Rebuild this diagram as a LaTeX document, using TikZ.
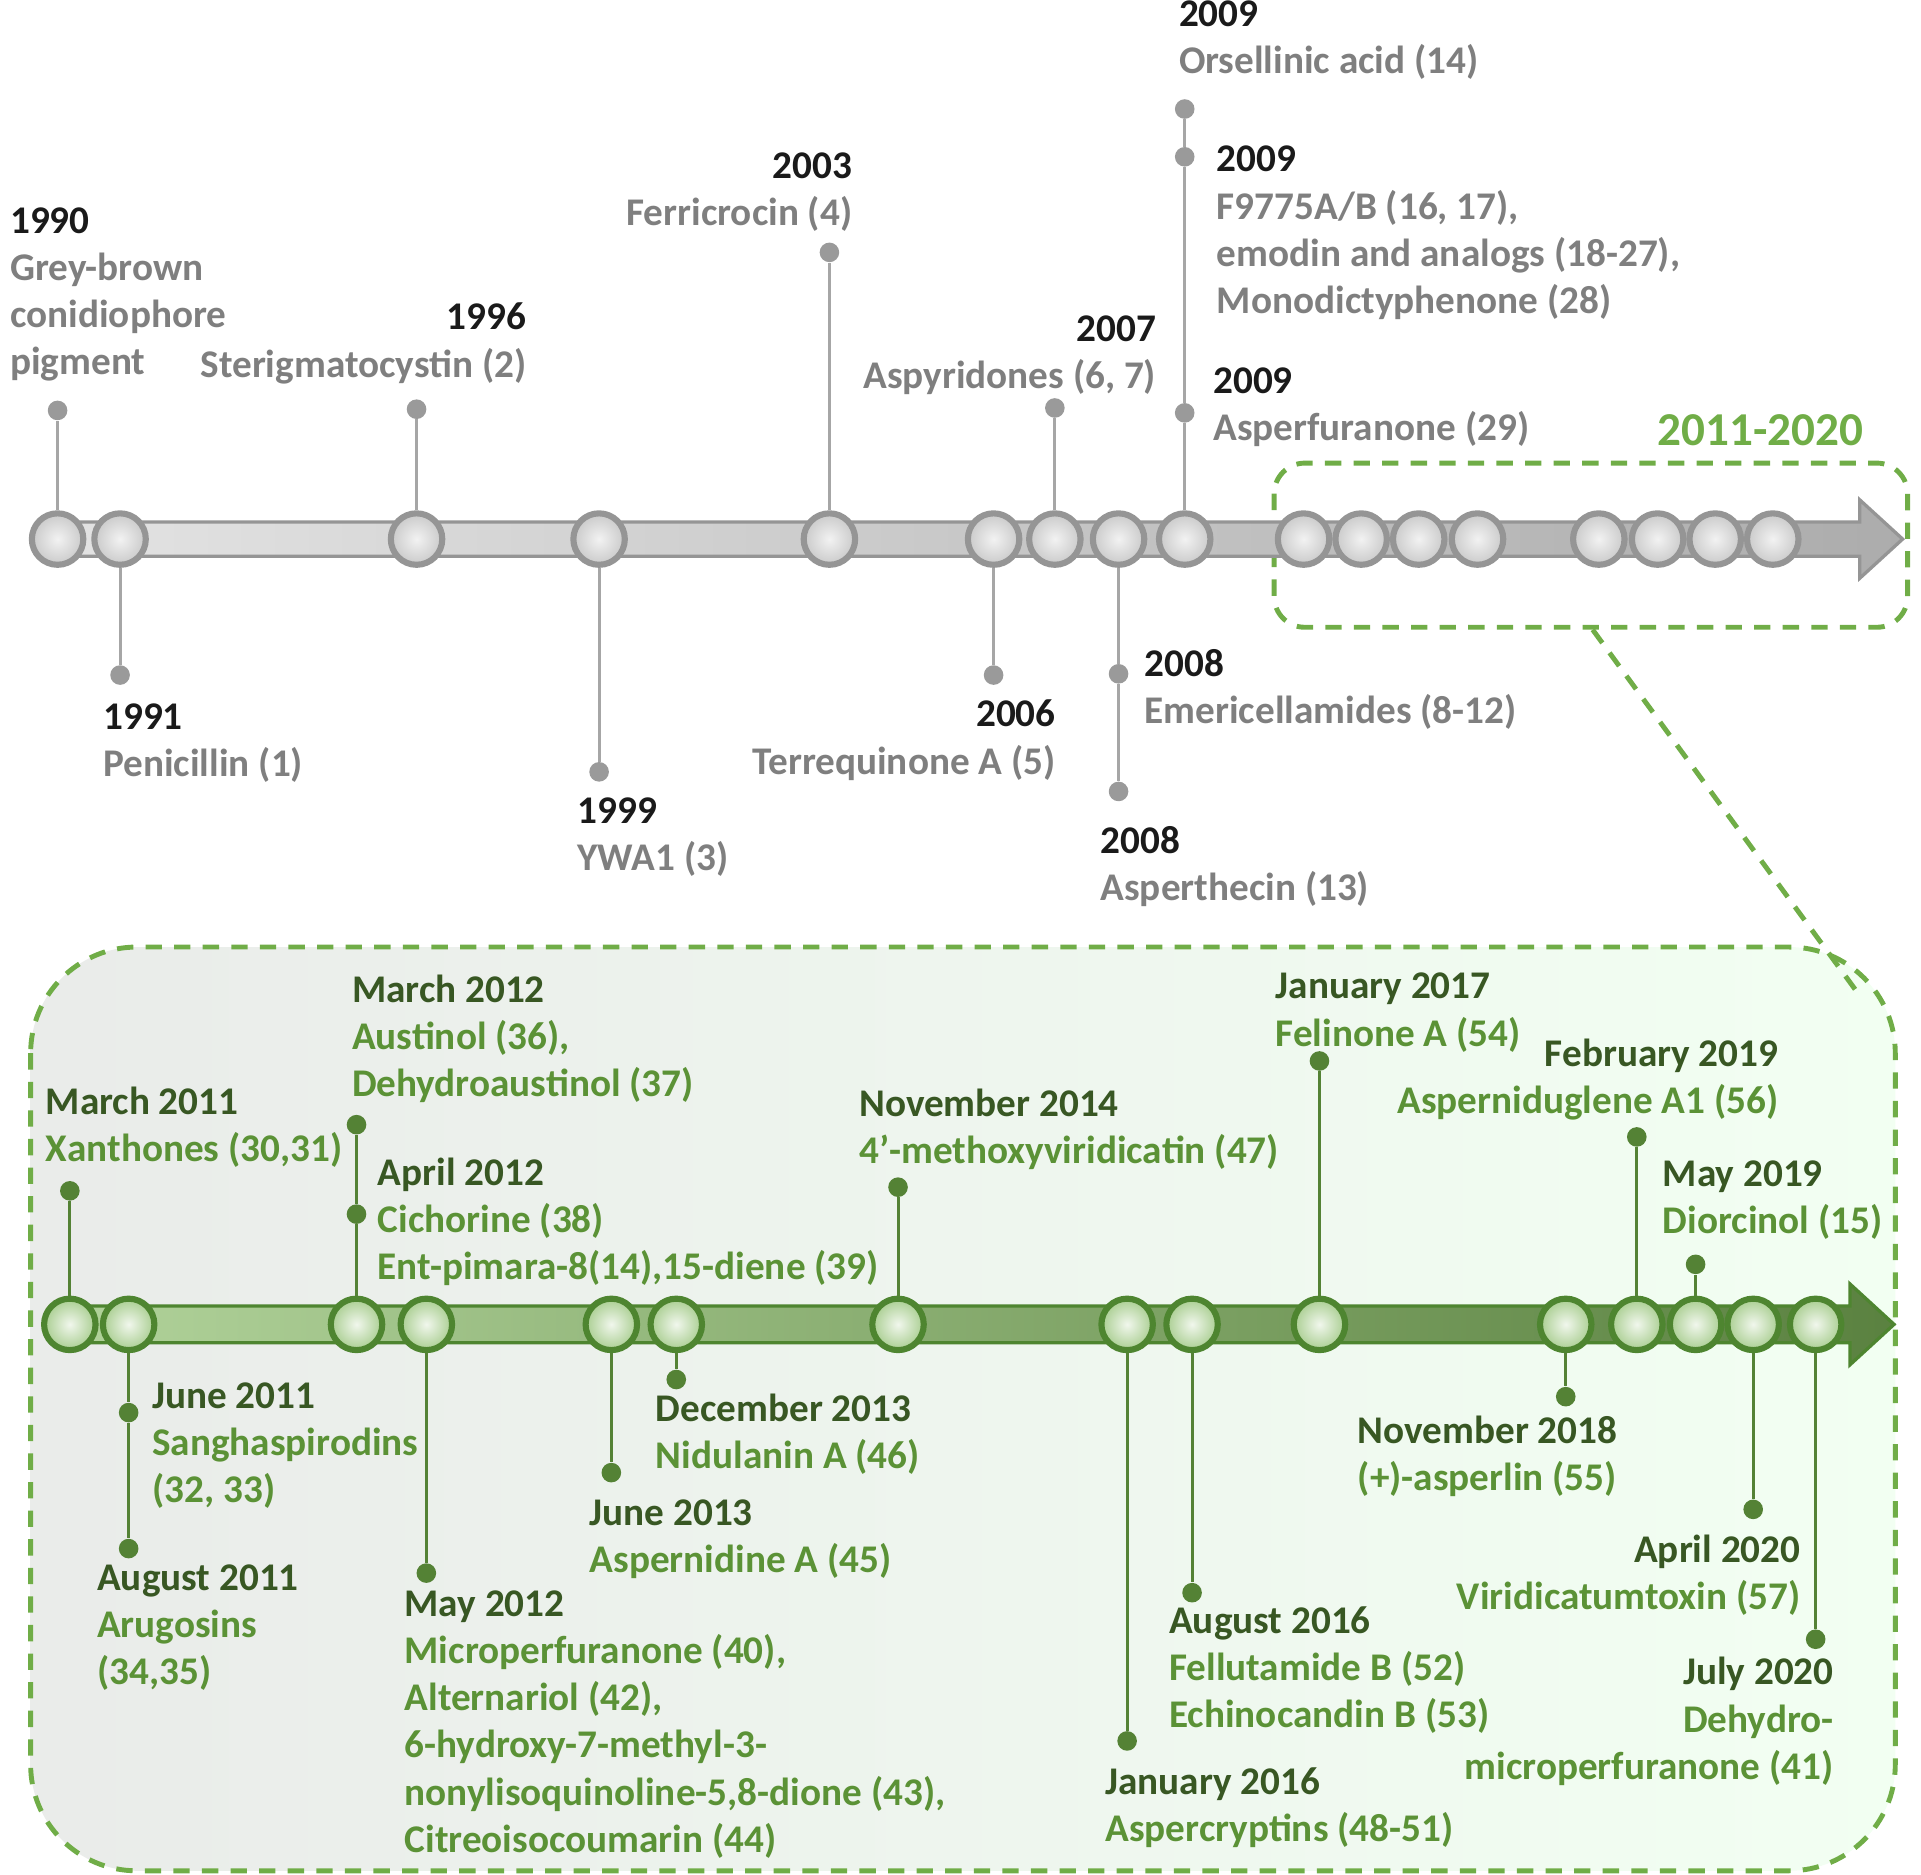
\documentclass[tikz,border=0pt]{standalone}
\usepackage{fontspec}
\setmainfont{Carlito}
\definecolor{ublack}{HTML}{1A1A1A}
\definecolor{ugtext}{HTML}{7F7F7F}
\definecolor{ugline}{HTML}{A6A6A6}
\definecolor{ugring}{HTML}{959595}
\definecolor{ugdot}{HTML}{9A9A9A}
\definecolor{lyear}{HTML}{385723}
\definecolor{lname}{HTML}{5B9236}
\definecolor{lline}{HTML}{548235}
\definecolor{lring}{HTML}{4E8530}
\definecolor{lgreen}{HTML}{70AD47}
\newcommand\yu[1]{\rule{0pt}{0.8em}\textcolor{ublack}{#1}}
\newcommand\yl[1]{\rule{0pt}{0.8em}\textcolor{lyear}{#1}}
\begin{document}
\begin{tikzpicture}[x=0.6pt,y=-0.6pt,
  every node/.style={font=\fontsize{19.2pt}{23.1pt}\selectfont\bfseries},
  ucirc/.style={circle,minimum size=25.2pt,inner sep=0pt,line width=3pt,draw=ugring,inner color=gray!10,outer color=gray!42},
  lcirc/.style={circle,minimum size=25.2pt,inner sep=0pt,line width=3pt,draw=lring,inner color=white!90!lgreen,outer color=lgreen!60},
  udot/.style={circle,minimum size=9.6pt,inner sep=0pt,fill=ugdot},
  ldot/.style={circle,minimum size=9.6pt,inner sep=0pt,fill=lline},
  ustem/.style={draw=ugline,line width=1.5pt},
  lstem/.style={draw=lline,line width=1.5pt},
  utl/.style={anchor=north west,align=left,inner sep=0pt,text=ugtext},
  utr/.style={anchor=north east,align=right,inner sep=0pt,text=ugtext},
  ltl/.style={anchor=north west,align=left,inner sep=0pt,text=lname},
  ltr/.style={anchor=north east,align=right,inner sep=0pt,text=lname},
  zoombox/.style={draw=lgreen,line width=2.4pt,dash pattern=on 8pt off 6pt}
]
\useasboundingbox (0,0) rectangle (1568,1530);

% lower zoom panel
\path[zoombox,left color=green!5!gray!16,right color=green!5!white,rounded corners=52pt] (25,773) rectangle (1547,1527);
% upper zoom frame
\draw[zoombox,rounded corners=15pt] (1040,378) rectangle (1557,512);
\coordinate (zA) at (1300,514);
\coordinate (zB) at (1516,810);
\draw[zoombox] (zA) -- (zB);
\node[anchor=base east,inner sep=0pt,text=lgreen,font=\fontsize{23.1pt}{27pt}\selectfont\bfseries] (range) at (1521,364) {2011-2020};

% upper bar
\path[draw=ugring,line width=1.6pt,left color=gray!22,right color=gray!65]
 (47,426) -- (1518,426) -- (1518,408) -- (1553,440) -- (1518,472) -- (1518,454) -- (47,454) -- cycle;
% lower bar
\path[draw=lring,line width=1.6pt,left color=lgreen!55,right color=lline!85!gray]
 (57,1066) -- (1510,1066) -- (1510,1048) -- (1546,1081) -- (1510,1114) -- (1510,1096) -- (57,1096) -- cycle;

% upper circles
\foreach \x [count=\i] in {47,98,340,489,677,811,861,913,967,1064,1111,1158,1206,1305,1353,1400,1447}
  \node[ucirc] (u\i) at (\x,440) {};
% lower circles
\foreach \x [count=\i] in {57,105,291,348,499,552,733,920,973,1077,1278,1336,1384,1431,1482}
  \node[lcirc] (l\i) at (\x,1081) {};

% upper dots
\node[udot] (d1) at (47,335) {};
\node[udot] (d2) at (98,551) {};
\node[udot] (d3) at (340,334) {};
\node[udot] (d4) at (489,630) {};
\node[udot] (d5) at (677,206) {};
\node[udot] (d6) at (811,551) {};
\node[udot] (d7) at (861,333) {};
\node[udot] (d8a) at (913,550) {};
\node[udot] (d8b) at (913,646) {};
\node[udot] (d9a) at (967,337) {};
\node[udot] (d9b) at (967,128) {};
\node[udot] (d9c) at (967,89) {};
\draw[ustem] (u1) -- (d1);
\draw[ustem] (u2) -- (d2);
\draw[ustem] (u3) -- (d3);
\draw[ustem] (u4) -- (d4);
\draw[ustem] (u5) -- (d5);
\draw[ustem] (u6) -- (d6);
\draw[ustem] (u7) -- (d7);
\draw[ustem] (u8) -- (d8a) -- (d8b);
\draw[ustem] (u9) -- (d9a) -- (d9b) -- (d9c);

% lower dots
\node[ldot] (e1) at (57,972) {};
\node[ldot] (e2a) at (105,1153) {};
\node[ldot] (e2b) at (105,1264) {};
\node[ldot] (e3a) at (291,991) {};
\node[ldot] (e3b) at (291,918) {};
\node[ldot] (e4) at (348,1284) {};
\node[ldot] (e5) at (499,1202) {};
\node[ldot] (e6) at (552,1126) {};
\node[ldot] (e7) at (733,969) {};
\node[ldot] (e8) at (920,1421) {};
\node[ldot] (e9) at (973,1300) {};
\node[ldot] (e10) at (1077,866) {};
\node[ldot] (e11) at (1278,1140) {};
\node[ldot] (e12) at (1336,928) {};
\node[ldot] (e13) at (1384,1032) {};
\node[ldot] (e14) at (1431,1232) {};
\node[ldot] (e15) at (1482,1338) {};
\draw[lstem] (l1) -- (e1);
\draw[lstem] (l2) -- (e2a) -- (e2b);
\draw[lstem] (l3) -- (e3a) -- (e3b);
\draw[lstem] (l4) -- (e4);
\draw[lstem] (l5) -- (e5);
\draw[lstem] (l6) -- (e6);
\draw[lstem] (l7) -- (e7);
\draw[lstem] (l8) -- (e8);
\draw[lstem] (l9) -- (e9);
\draw[lstem] (l10) -- (e10);
\draw[lstem] (l11) -- (e11);
\draw[lstem] (l12) -- (e12);
\draw[lstem] (l13) -- (e13);
\draw[lstem] (l14) -- (e14);
\draw[lstem] (l15) -- (e15);

% upper labels
\node[utl] (t1) at (8,164.4) {\yu{1990}\\Grey-brown\\conidiophore\\pigment};
\node[utl] (t2) at (84,569.4) {\yu{1991}\\Penicillin (1)};
\node[utr] (t3) at (430,243.4) {\yu{1996}\\Sterigmatocystin (2)};
\node[utl] (t4) at (471,646.4) {\yu{1999}\\YWA1 (3)};
\node[utr] (t5) at (696,119.4) {\yu{2003}\\Ferricrocin (4)};
\node[utr] (t6) at (862,567.4) {\yu{2006}\\Terrequinone A (5)};
\node[utr] (t7) at (944,252.4) {\yu{2007}\\Aspyridones (6, 7)};
\node[utl] (t8a) at (934,526.4) {\yu{2008}\\Emericellamides (8-12)};
\node[utl] (t8b) at (898,670.4) {\yu{2008}\\Asperthecin (13)};
\node[utl] (t9a) at (962,-4.6) {\yu{2009}\\Orsellinic acid (14)};
\node[utl] (t9b) at (993,114.4) {\yu{2009}\\F9775A/B (16, 17),\\emodin and analogs (18-27),\\Monodictyphenone (28)};
\node[utl] (t9c) at (990,295.4) {\yu{2009}\\Asperfuranone (29)};

% lower labels
\node[ltl] (s1) at (37,883.4) {\yl{March 2011}\\Xanthones (30,31)};
\node[ltl] (s2a) at (124,1123.4) {\yl{June 2011}\\Sanghaspirodins\\(32, 33)};
\node[ltl] (s2b) at (79,1272.4) {\yl{August 2011}\\Arugosins\\(34,35)};
\node[ltl] (s3a) at (287,792.4) {\yl{March 2012}\\Austinol (36),\\Dehydroaustinol (37)};
\node[ltl] (s3b) at (308,941.4) {\yl{April 2012}\\Cichorine (38)\\Ent-pimara-8(14),15-diene (39)};
\node[ltl] (s4) at (330,1293.4) {\yl{May 2012}\\Microperfuranone (40),\\Alternariol (42),\\6-hydroxy-7-methyl-3-\\nonylisoquinoline-5,8-dione (43),\\Citreoisocoumarin (44)};
\node[ltl] (s5) at (481,1219.4) {\yl{June 2013}\\Aspernidine A (45)};
\node[ltl] (s6) at (535,1134.4) {\yl{December 2013}\\Nidulanin A (46)};
\node[ltl] (s7) at (701,885.4) {\yl{November 2014}\\4’-methoxyviridicatin (47)};
\node[ltl] (s8) at (902,1438.4) {\yl{January 2016}\\Aspercryptins (48-51)};
\node[ltl] (s9) at (954,1307.4) {\yl{August 2016}\\Fellutamide B (52)\\Echinocandin B (53)};
\node[ltl] (s10) at (1041,789.4) {\yl{January 2017}\\Felinone A (54)};
\node[ltl] (s11) at (1108,1152.4) {\yl{November 2018}\\(+)-asperlin (55)};
\node[ltr] (s12) at (1452,844.4) {\yl{February 2019}\\Asperniduglene A1 (56)};
\node[ltl] (s13) at (1357,942.4) {\yl{May 2019}\\Diorcinol (15)};
\node[ltr] (s14) at (1470,1249.4) {\yl{April 2020}\\Viridicatumtoxin (57)};
\node[ltr] (s15) at (1497,1349.4) {\yl{July 2020}\\Dehydro-\\microperfuranone (41)};
\end{tikzpicture}
\end{document}
